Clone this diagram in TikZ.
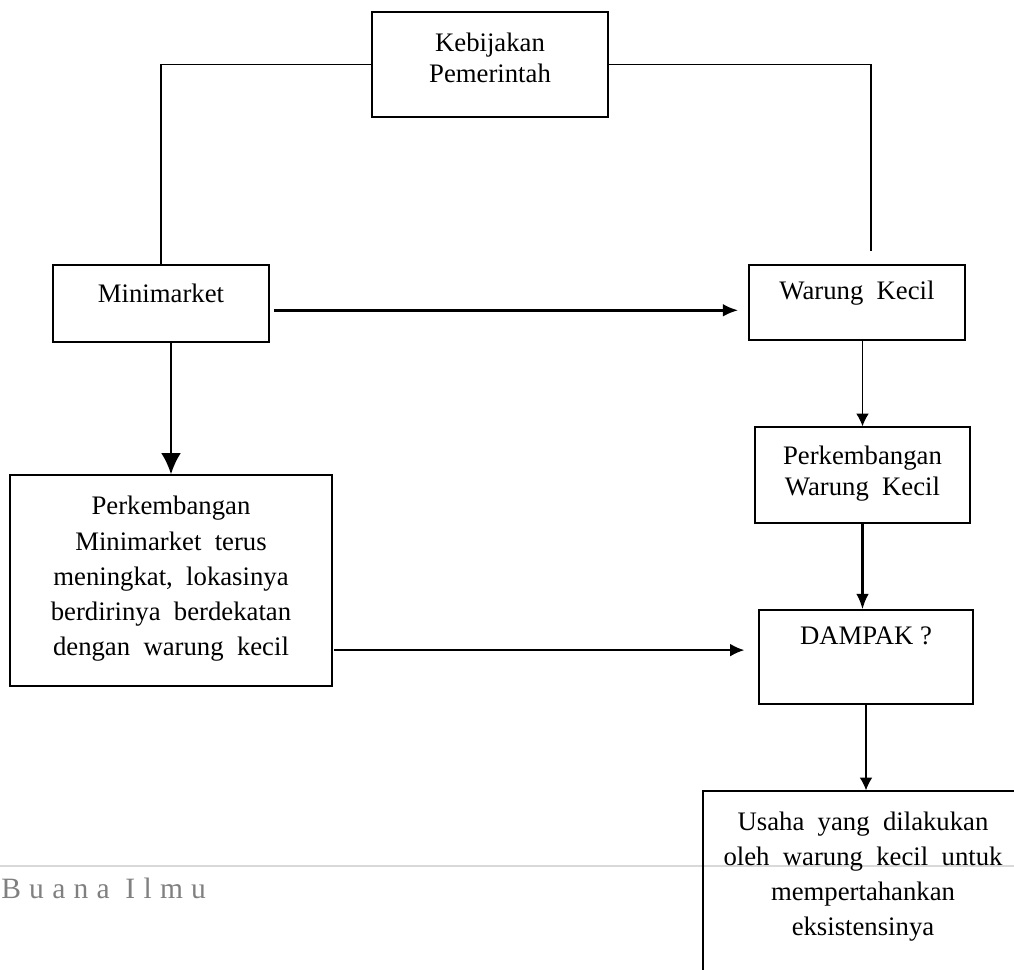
\documentclass[tikz,border=0pt]{standalone}
\usepackage{fontspec}
\setmainfont{Liberation Serif}
\newfontfamily\boxfont{Liberation Serif}
\usetikzlibrary{positioning,arrows.meta}

\begin{document}
\begin{tikzpicture}[x=0.025cm, y=-0.025cm,
		box/.style={draw=black, line width=1pt, rectangle, inner sep=0pt},
		txt/.style={black, inner sep=0pt, align=center, font=\boxfont\fontsize{19}{25}\selectfont},
		link/.style={draw=black, line width=0.8pt},
		arr/.style={draw=black, line width=0.8pt, -{Latex[length=9pt, width=9pt]}},
		thickarr/.style={draw=black, line width=1.6pt, -{Latex[length=11pt, width=9pt]}}]
		\useasboundingbox (0,0) rectangle (1014,970);
		% page rule and footer
		\draw[draw=black!15, line width=1.2pt] (0,866) -- (1014,866);
		\node[anchor=base west, inner sep=0pt, text=black!50, font=\boxfont\fontsize{21}{25}\selectfont\addfontfeatures{LetterSpace=28}] (buana) at (1,898) {Buana Ilmu};
		% boxes
		\node[box, minimum width=5.9cm, minimum height=2.625cm] (keb) at (490,64.5) {};
		\node[box, minimum width=5.4cm, minimum height=1.925cm] (mini) at (161,303.5) {};
		\node[box, minimum width=5.4cm, minimum height=1.875cm] (warung) at (857,302.5) {};
		\node[box, minimum width=8.05cm, minimum height=5.275cm] (pmini) at (171,580.5) {};
		\node[box, minimum width=5.375cm, minimum height=2.4cm] (pwarung) at (862.5,475) {};
		\node[box, minimum width=5.35cm, minimum height=2.35cm] (dampak) at (866,657) {};
		\node[box, minimum width=8cm, minimum height=5.2cm] (usaha) at (863,895) {};
		% texts
		\node[txt, font=\boxfont\fontsize{19}{22}\selectfont, below=15pt of keb.north] (kebtxt) {Kebijakan\\Pemerintah};
		\node[txt, below=14pt of mini.north] (minitxt) {Minimarket};
		\node[txt, below=12pt of warung.north] (warungtxt) {Warung\ \ Kecil};
		\node[txt, below=15.5pt of pmini.north] (pminitxt) {Perkembangan\\Minimarket\ \ terus\\meningkat,\ \ lokasinya\\berdirinya\ \ berdekatan\\dengan\ \ warung\ \ kecil};
		\node[txt, font=\boxfont\fontsize{19}{22}\selectfont, below=14pt of pwarung.north] (pwarungtxt) {Perkembangan\\Warung\ \ Kecil};
		\node[txt, below=12pt of dampak.north] (dampaktxt) {DAMPAK ?};
		\node[txt, below=15pt of usaha.north] (usahatxt) {Usaha\ \ yang\ \ dilakukan\\oleh\ \ warung\ \ kecil\ \ untuk\\mempertahankan\\eksistensinya};
		% connectors
		\draw[link] (keb.west) -| (mini.north);
		\coordinate (wtop) at ([xshift=0.35cm, yshift=0.325cm]warung.north);
		\draw[link] (keb.east) -| (wtop);
		\coordinate (ma) at ([yshift=-0.17cm]mini.east);
		\draw[thickarr, line width=2pt, shorten <=3pt, shorten >=7pt] (ma) -- (ma -| warung.west);
		\draw[thickarr, line width=1.4pt, -{Latex[length=15pt, width=14pt]}] (pmini.north |- mini.south) -- (pmini.north);
		\draw[arr] (pwarung.north |- warung.south) -- (pwarung.north);
		\draw[thickarr] (pwarung.south) -- (pwarung.south |- dampak.north);
		\coordinate (pa) at ([yshift=-1.74cm]pmini.east);
		\draw[arr, line width=1.1pt, -{Latex[length=10pt, width=9pt]}, shorten <=1pt, shorten >=10pt] (pa) -- (pa -| dampak.west);
		\draw[arr] (dampak.south) -- (dampak.south |- usaha.north);
	\end{tikzpicture}
\end{document}
